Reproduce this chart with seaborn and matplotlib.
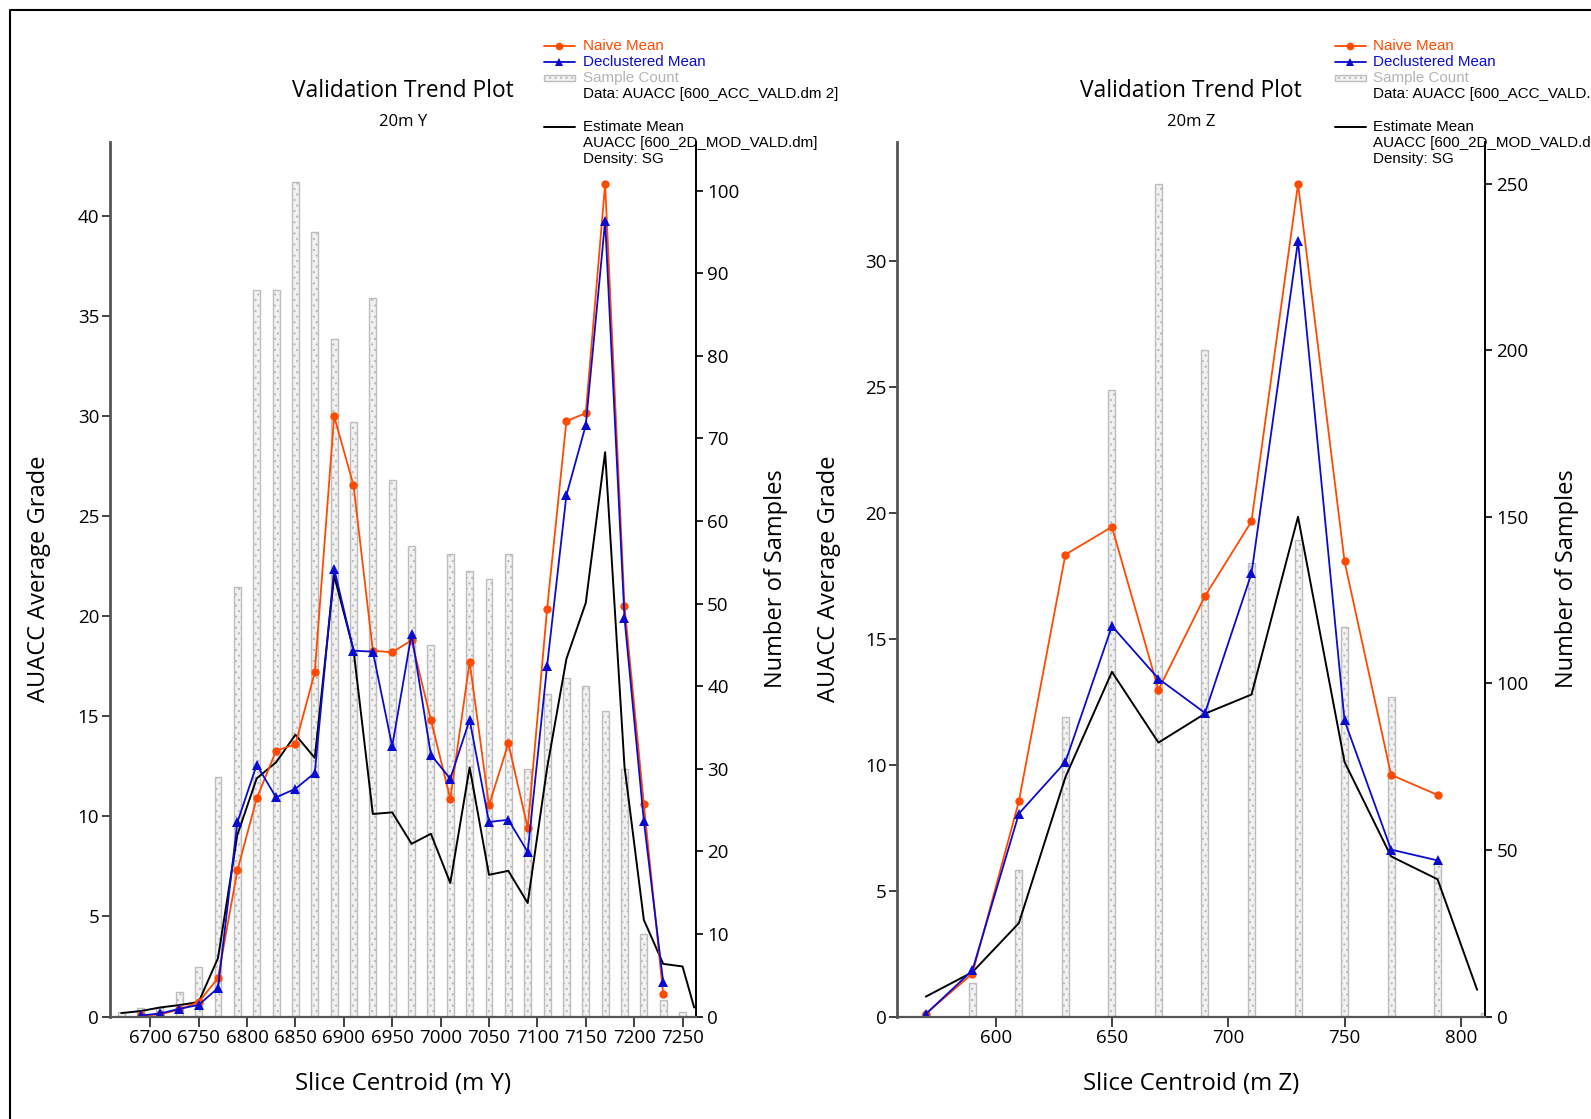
import numpy as np
import pandas as pd
import matplotlib
matplotlib.use("Agg")
import matplotlib.pyplot as plt
import seaborn as sns
from matplotlib.lines import Line2D
from matplotlib.patches import Rectangle

# ---------------- data ----------------
# Left panel : 20m Y slices
y_bar_x = [6670, 6690, 6710, 6730, 6750, 6770, 6790, 6810, 6830, 6850,
           6870, 6890, 6910, 6930, 6950, 6970, 6990, 7010, 7030, 7050,
           7070, 7090, 7110, 7130, 7150, 7170, 7190, 7210, 7230, 7250]
y_counts = [0.5, 1, 1, 3, 6, 29, 52, 88, 88, 101,
            95, 82, 72, 87, 65, 57, 45, 56, 54, 53,
            56, 30, 39, 41, 40, 37, 30, 10, 2, 0.5]
y_line_x = [6690, 6710, 6730, 6750, 6770, 6790, 6810, 6830, 6850, 6870,
            6890, 6910, 6930, 6950, 6970, 6990, 7010, 7030, 7050, 7070,
            7090, 7110, 7130, 7150, 7170, 7190, 7210, 7230]
y_naive = [0.05, 0.1, 0.35, 0.72, 1.92, 7.3, 10.9, 13.28, 13.6, 17.2,
           30.0, 26.55, 18.28, 18.2, 18.8, 14.82, 10.88, 17.73, 10.55, 13.65,
           9.42, 20.35, 29.75, 30.15, 41.6, 20.53, 10.62, 1.12]
y_declus = [0.05, 0.15, 0.38, 0.58, 1.42, 9.7, 12.58, 10.95, 11.38, 12.17,
            22.38, 18.28, 18.23, 13.5, 19.12, 13.08, 11.88, 14.83, 9.72, 9.83,
            8.22, 17.5, 26.05, 29.55, 39.75, 19.92, 9.78, 1.72]
y_est_x = [6670, 6690, 6710, 6730, 6750, 6770, 6790, 6810, 6830, 6850,
           6870, 6890, 6910, 6930, 6950, 6970, 6990, 7010, 7030, 7050,
           7070, 7090, 7110, 7130, 7150, 7170, 7190, 7210, 7230, 7250, 7262]
y_est = [0.17, 0.27, 0.45, 0.57, 0.72, 2.92, 9.08, 11.9, 12.7, 14.08,
         12.92, 22.03, 18.33, 10.12, 10.2, 8.63, 9.13, 6.67, 12.45, 7.08,
         7.28, 5.67, 12.4, 17.87, 20.67, 28.2, 12.5, 4.83, 2.63, 2.5, 0.45]

# Right panel : 20m Z slices
z_bar_x = [570, 590, 610, 630, 650, 670, 690, 710, 730, 750, 770, 790, 810]
z_counts = [1, 10, 44, 90, 188, 250, 200, 136, 143, 117, 96, 46, 1]
z_line_x = [570, 590, 610, 630, 650, 670, 690, 710, 730, 750, 770, 790]
z_naive = [0.11, 1.7, 8.55, 18.35, 19.45, 12.98, 16.7, 19.67, 33.07, 18.08, 9.6, 8.8]
z_declus = [0.1, 1.83, 8.06, 10.11, 15.51, 13.42, 12.06, 17.6, 30.81, 11.76, 6.63, 6.2]
z_est_x = [570, 590, 610, 630, 650, 670, 690, 710, 730, 750, 770, 790, 807]
z_est = [0.79, 1.76, 3.71, 9.51, 13.69, 10.88, 12.03, 12.79, 19.85, 10.11, 6.36, 5.45, 1.06]

title = "Validation Trend Plot"
subtitles = ["20m Y", "20m Z"]
xlabels = ["Slice Centroid (m Y)", "Slice Centroid (m Z)"]
ylabel_left = "AUACC Average Grade"
ylabel_right = "Number of Samples"
legend_texts = ["Naive Mean", "Declustered Mean", "Sample Count",
                "Data: AUACC [600_ACC_VALD.dm 2]", "Estimate Mean",
                "AUACC [600_2D_MOD_VALD.dm]", "Density: SG"]

# ---------------- style ----------------
sns.set_style("ticks")
plt.rcParams["font.family"] = ["Open Sans", "DejaVu Sans"]
plt.rcParams["hatch.linewidth"] = 0.9
plt.rcParams["text.color"] = "black"

ORANGE = "#ff4a00"
BLUE = "#0a0ad0"
BAR_FACE = "#f2f2f2"
BAR_EDGE = "#bdbdbd"
LEG_FONT = ["Liberation Sans", "DejaVu Sans"]

W, H = 1591, 1119
fig = plt.figure(figsize=(W / 100, H / 100), dpi=100)


def fx(px):
    return px / W


def fy(py):
    return 1 - py / H


panels = [
    dict(l=109.6, r=696.1, bar_x=y_bar_x, counts=y_counts, lx=y_line_x,
         naive=y_naive, declus=y_declus, ex=y_est_x, est=y_est,
         xlim=(6658, 7264), ylim=(0, 43.7), y2lim=(0, 105.9), bar_w=0.36,
         xticks=np.arange(6700, 7251, 50), yticks=np.arange(0, 41, 5),
         y2ticks=np.arange(0, 101, 10), leg_line=544, leg_text=583,
         lab_l=38.6, lab_r=776.3),
    dict(l=897.0, r=1485.5, bar_x=z_bar_x, counts=z_counts, lx=z_line_x,
         naive=z_naive, declus=z_declus, ex=z_est_x, est=z_est,
         xlim=(557.6, 810.6), ylim=(0, 34.74), y2lim=(0, 262.5), bar_w=0.15,
         xticks=np.arange(600, 801, 50), yticks=np.arange(0, 31, 5),
         y2ticks=np.arange(0, 251, 50), leg_line=1335, leg_text=1373.3,
         lab_l=829, lab_r=1566.7),
]

top_px, bot_px = 142.0, 1016.5

for i, p in enumerate(panels):
    ax = fig.add_axes([fx(p["l"]), fy(bot_px), (p["r"] - p["l"]) / W,
                       (bot_px - top_px) / H])
    ax2 = ax.twinx()

    bars_df = pd.DataFrame({"x": p["bar_x"], "n": p["counts"]})
    sns.barplot(data=bars_df, x="x", y="n", ax=ax2, native_scale=True,
                width=p["bar_w"], color=BAR_FACE, saturation=1,
                edgecolor=BAR_EDGE, linewidth=1.0, hatch="...", errorbar=None)

    ax.set_zorder(ax2.get_zorder() + 1)
    ax.patch.set_visible(False)

    ldf = pd.DataFrame({"x": p["lx"], "naive": p["naive"], "declus": p["declus"]})
    edf = pd.DataFrame({"x": p["ex"], "est": p["est"]})
    sns.lineplot(data=edf, x="x", y="est", ax=ax, color="black", linewidth=1.4,
                 estimator=None, sort=False, legend=False)
    sns.lineplot(data=ldf, x="x", y="naive", ax=ax, color=ORANGE, linewidth=1.3,
                 marker="o", markersize=6, markeredgewidth=0, estimator=None,
                 sort=False, legend=False)
    sns.lineplot(data=ldf, x="x", y="declus", ax=ax, color=BLUE, linewidth=1.3,
                 marker="^", markersize=6.5, markeredgewidth=0, estimator=None,
                 sort=False, legend=False)

    ax.set_xlim(*p["xlim"])
    ax.set_ylim(*p["ylim"])
    ax2.set_ylim(*p["y2lim"])
    ax2.set_xlim(*p["xlim"])
    ax.set_xticks(p["xticks"])
    ax.set_yticks(p["yticks"])
    ax2.set_yticks(p["y2ticks"])
    for a in (ax, ax2):
        a.set_xlabel("")
        a.set_ylabel("")

    ax.spines["top"].set_visible(False)
    ax.spines["right"].set_visible(False)
    ax.spines["left"].set_color("#555555")
    ax.spines["left"].set_linewidth(2.0)
    ax.spines["bottom"].set_color("#555555")
    ax.spines["bottom"].set_linewidth(1.6)
    for s in ("top", "left", "bottom"):
        ax2.spines[s].set_visible(False)
    ax2.spines["right"].set_color("black")
    ax2.spines["right"].set_linewidth(1.4)

    ax.tick_params(axis="y", direction="out", length=5.5, width=1.3,
                   color="#333333", labelsize=13.5, pad=2, labelcolor="black")
    ax.tick_params(axis="x", direction="out", length=7, width=1.3,
                   color="#333333", labelsize=13.5, pad=2, labelcolor="black")
    ax2.tick_params(axis="y", direction="out", length=5, width=1.2,
                    color="black", labelsize=13.5, pad=3, labelcolor="black")
    ax.grid(False)
    ax2.grid(False)

    cx = (p["l"] + p["r"]) / 2
    fig.text(fx(cx), fy(91), title, ha="center", va="center", fontsize=16.4,
             color="black")
    fig.text(fx(cx), fy(121.5), subtitles[i], ha="center", va="center",
             fontsize=12, color="black")
    fig.text(fx(cx), fy(1084.5), xlabels[i], ha="center", va="center",
             fontsize=17.3, color="black")
    fig.text(fx(p["lab_l"]), fy(578.4), ylabel_left, ha="center", va="center",
             rotation=90, fontsize=17, color="black")
    fig.text(fx(p["lab_r"]), fy(578.4), ylabel_right, ha="center", va="center",
             rotation=90, fontsize=17, color="black")

    # legend block (drawn in figure coordinates)
    x0 = p["leg_line"]
    x1 = x0 + 30.5
    xm = (x0 + x1) / 2
    xt = p["leg_text"]
    rows = [45.5, 62, 78, 94.3, 127, 143.5, 158.8]
    fig.add_artist(Line2D([fx(x0), fx(x1)], [fy(rows[0])] * 2, color=ORANGE, lw=1.3))
    fig.add_artist(Line2D([fx(xm)], [fy(rows[0])], color=ORANGE, marker="o",
                          markersize=5.5, markeredgewidth=0, lw=0))
    fig.add_artist(Line2D([fx(x0), fx(x1)], [fy(rows[1])] * 2, color=BLUE, lw=1.3))
    fig.add_artist(Line2D([fx(xm)], [fy(rows[1])], color=BLUE, marker="^",
                          markersize=6, markeredgewidth=0, lw=0))
    fig.add_artist(Rectangle((fx(x0), fy(rows[2] + 3)), 31 / W, 6 / H,
                             transform=fig.transFigure, facecolor=BAR_FACE,
                             edgecolor=BAR_EDGE, lw=1.0, hatch="..."))
    fig.add_artist(Line2D([fx(x0), fx(x1)], [fy(rows[4])] * 2, color="black", lw=1.4))
    colors = [ORANGE, BLUE, "#b4b4b4", "black", "black", "black", "black"]
    for txt, yy, c in zip(legend_texts, rows, colors):
        fig.text(fx(xt), fy(yy), txt, ha="left", va="center", color=c,
                 fontsize=10.9, family=LEG_FONT)

# window frame (left and top edges)
fig.add_artist(Line2D([fx(10), fx(10), 1.0], [0.0, fy(10), fy(10)],
                      color="black", lw=1.5))

fig.savefig("out.png", dpi=100)
